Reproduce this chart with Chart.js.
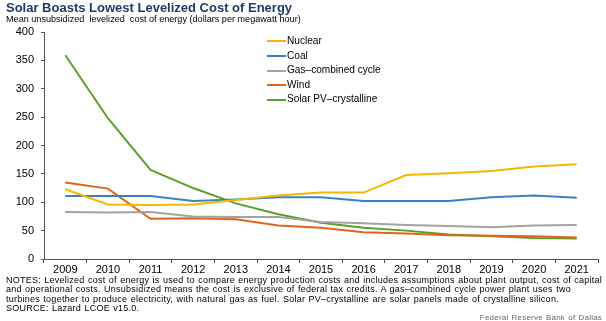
<!DOCTYPE html>
<html>
<head>
<meta charset="utf-8">
<script src="https://cdn.jsdelivr.net/npm/chart.js@4/dist/chart.umd.min.js"></script>
<style>
  body { margin: 0; background: #fff; font-family: "Liberation Sans", Arial, sans-serif; }
  #wrap { position: relative; width: 606px; height: 321px; overflow: hidden; }
  #wrap canvas { position: absolute; left: 0; top: 0; }
  .title { position: absolute; left: 6px; top: 0px; font-size: 13px; font-weight: bold; color: #1f3a68; }
  .sub { position: absolute; left: 6px; top: 14px; font-size: 9.1px; color: #000; }
  .legend { position: absolute; left: 267px; top: 35px; font-size: 10.1px; color: #000; }
  .legend div { height: 14.6px; line-height: 12px; }
  .legend span.sw { display: inline-block; width: 19px; height: 2px; vertical-align: middle; margin-right: 1px; }
  .notes { position: absolute; left: 6px; top: 276px; font-size: 9px; line-height: 9.3px; letter-spacing: 0.25px; word-spacing: 0.6px; color: #000; }
  .credit { position: absolute; right: 4px; top: 313px; font-size: 8px; letter-spacing: 0.2px; word-spacing: 0.8px; color: #666; }
</style>
</head>
<body>
<div id="wrap">
  <canvas id="canvas_lcoe" width="606" height="321"></canvas>
  <div class="title">Solar Boasts Lowest Levelized Cost of Energy</div>
  <div class="sub">Mean unsubsidized&nbsp; levelized&nbsp; cost of energy (dollars per megawatt hour)</div>
  <div class="legend" id="legend"></div>
  <div class="notes">NOTES: Levelized cost of energy is used to compare energy production costs and includes assumptions about plant output, cost of capital<br>and operational costs. Unsubsidized means the cost is exclusive of federal tax credits. A gas–combined cycle power plant uses two<br>turbines together to produce electricity, with natural gas as fuel. Solar PV–crystalline are solar panels made of crystalline silicon.<br>SOURCE: Lazard LCOE v15.0.</div>
  <div class="credit">Federal Reserve Bank of Dallas</div>
</div>
<script>
// data
var years = ["2009", "2010", "2011", "2012", "2013", "2014", "2015", "2016", "2017", "2018", "2019", "2020", "2021"];
var nuclear = [123, 96, 95, 96, 104, 112, 117, 117, 148, 151, 155, 163, 167];
var coal = [111, 111, 111, 102, 105, 109, 109, 102, 102, 102, 109, 112, 108];
var gas = [83, 82, 83, 75, 74, 74, 65, 63, 60, 58, 56, 59, 60];
var wind = [135, 124, 71, 72, 70, 59, 55, 47, 45, 42, 41, 40, 38];
var solar = [359, 248, 157, 125, 98, 79, 64, 55, 50, 43, 40, 37, 36];
var yTicks = [0, 50, 100, 150, 200, 250, 300, 350, 400];

var series = [
  { label: "Nuclear", data: nuclear, color: "#f7b500" },
  { label: "Coal", data: coal, color: "#3b80c6" },
  { label: "Gas\u2013combined cycle", data: gas, color: "#a3a3a3" },
  { label: "Wind", data: wind, color: "#e2641b" },
  { label: "Solar PV\u2013crystalline", data: solar, color: "#5c9e2e" }
];

function drawLcoe() {
  var datasets = series.map(function (s) {
    return {
      label: s.label,
      data: s.data,
      borderColor: s.color,
      backgroundColor: s.color,
      borderWidth: 2,
      pointRadius: 0,
      tension: 0,
      fill: false
    };
  });

  // legend as html so it can sit inside the plot
  var lg = document.getElementById("legend");
  series.forEach(function (s) {
    var row = document.createElement("div");
    row.innerHTML = '<span class="sw" style="background:' + s.color + '"></span>' + s.label;
    lg.appendChild(row);
  });

  var ctx = document.getElementById("canvas_lcoe");
  new Chart(ctx, {
    type: "line",
    data: { labels: years, datasets: datasets },
    options: {
      responsive: false,
      animation: false,
      layout: { padding: { top: 32, right: 8, bottom: 0, left: 0 } },
      plugins: { legend: { display: false }, tooltip: { enabled: false } },
      scales: {
        x: {
          offset: true,
          grid: { drawOnChartArea: false, drawTicks: true, tickLength: 4, color: "#555", offset: true },
          border: { color: "#555", width: 1 },
          ticks: { color: "#000", font: { family: "Liberation Sans", size: 11 }, padding: 0, maxRotation: 0 },
          afterFit: function (s) { s.height = 62; }
        },
        y: {
          min: 0,
          max: 400,
          afterBuildTicks: function (s) { s.ticks = yTicks.map(function (v) { return { value: v }; }); },
          grid: { drawOnChartArea: false, drawTicks: true, tickLength: 3, color: "#555" },
          border: { color: "#555", width: 1 },
          ticks: { color: "#000", font: { family: "Liberation Sans", size: 11 }, padding: 7 },
          afterFit: function (s) { s.width = 44; }
        }
      }
    }
  });
}

drawLcoe();
</script>
</body>
</html>
